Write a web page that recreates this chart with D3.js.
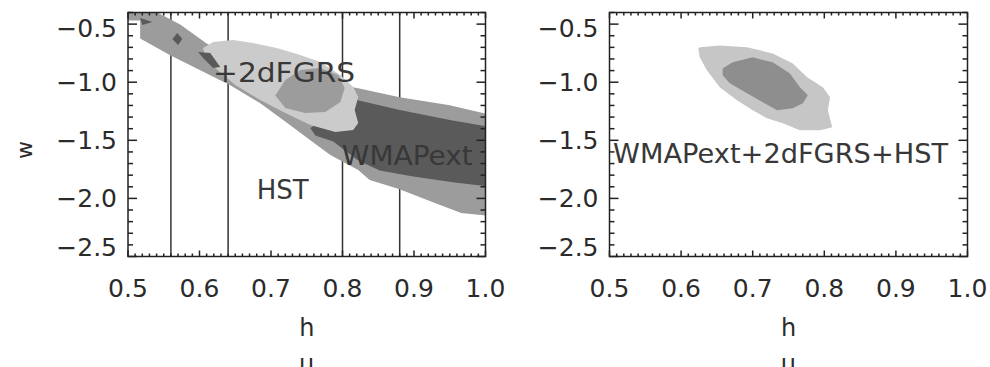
<!DOCTYPE html>
<html>
<head>
<meta charset="utf-8">
<script src="https://cdn.jsdelivr.net/npm/d3@7/dist/d3.min.js"></script>
<style>
body { margin: 0; background: #fff; }
text { font-family: "DejaVu Sans", sans-serif; fill: #2b2b2b; }
</style>
</head>
<body>
<svg id="chart" width="990" height="367"></svg>
<script>
// axis ranges and ticks
var hDomain = [0.5, 1.0];
var wDomain = [-2.5, -0.4];
var hTicks = [0.5, 0.6, 0.7, 0.8, 0.9, 1.0];
var wTicks = [-0.5, -1.0, -1.5, -2.0, -2.5];
var hstLines = [0.56, 0.64, 0.80, 0.88];

// WMAPext alone (left panel), 2 sigma and 1 sigma
var wmapOuter = [[0.48,-0.20],[0.50,-0.245],[0.541,-0.40],[0.573,-0.503],[0.610,-0.666],[0.671,-0.855],
  [0.741,-0.967],[0.822,-1.052],[0.880,-1.130],[0.950,-1.198],[1.02,-1.30],[1.02,-2.16],[0.966,-2.125],
  [0.922,-2.022],[0.879,-1.919],[0.838,-1.842],[0.822,-1.756],[0.783,-1.627],[0.755,-1.499],[0.727,-1.370],
  [0.685,-1.181],[0.643,-1.027],[0.601,-0.898],[0.559,-0.769],[0.517,-0.623],[0.517,-0.469],[0.48,-0.469]];
var wmapInner = [[0.755,-1.394],[0.797,-1.239],[0.820,-1.153],[0.880,-1.239],[0.950,-1.325],[1.02,-1.40],
  [1.02,-1.885],[0.999,-1.893],[0.957,-1.863],[0.899,-1.811],[0.852,-1.760],[0.822,-1.674],[0.787,-1.510],[0.762,-1.458]];
var wmapSpots = [
  [[0.517,-0.447],[0.534,-0.482],[0.520,-0.508]],
  [[0.569,-0.576],[0.576,-0.628],[0.570,-0.680],[0.562,-0.628]],
  [[0.598,-0.740],[0.615,-0.749],[0.629,-0.869],[0.619,-0.878],[0.605,-0.792]]
];

// WMAPext + 2dFGRS (left panel)
var fgrsOuter = [[0.605,-0.706],[0.619,-0.654],[0.647,-0.637],[0.675,-0.662],[0.708,-0.706],[0.741,-0.766],
  [0.769,-0.826],[0.797,-0.938],[0.815,-1.041],[0.822,-1.127],[0.817,-1.239],[0.822,-1.351],[0.815,-1.411],
  [0.790,-1.428],[0.755,-1.368],[0.720,-1.265],[0.685,-1.153],[0.650,-1.024],[0.622,-0.878],[0.608,-0.792]];
var fgrsInner = [[0.706,-1.114],[0.720,-0.981],[0.741,-0.895],[0.769,-0.878],[0.794,-0.938],[0.803,-1.050],
  [0.797,-1.170],[0.776,-1.256],[0.748,-1.265],[0.720,-1.222]];

// WMAPext + 2dFGRS + HST (right panel)
var allOuter = [[0.626,-0.700],[0.654,-0.683],[0.692,-0.700],[0.728,-0.752],[0.756,-0.838],[0.776,-0.958],
  [0.798,-1.044],[0.808,-1.130],[0.805,-1.241],[0.811,-1.387],[0.794,-1.413],[0.766,-1.413],[0.742,-1.353],
  [0.720,-1.310],[0.700,-1.241],[0.678,-1.155],[0.654,-1.044],[0.636,-0.898],[0.626,-0.786],[0.624,-0.709]];
var allInner = [[0.658,-0.881],[0.672,-0.829],[0.700,-0.786],[0.728,-0.829],[0.752,-0.924],[0.766,-1.044],
  [0.777,-1.112],[0.770,-1.181],[0.756,-1.224],[0.734,-1.241],[0.714,-1.173],[0.692,-1.095],[0.668,-1.009],[0.658,-0.941]];

// labels: text, h, w (left baseline), width
var leftLabels = [["+2dFGRS", 0.619, -0.998, 142], ["WMAPext", 0.799, -1.712, 131], ["HST", 0.680, -2.005, 52]];
var rightLabels = [["WMAPext+2dFGRS+HST", 0.505, -1.695, 335]];

var light = "#cbcbcb", medium = "#9c9c9c", dark = "#5a5a5a";

var panels = [
  { id: "L", x0: 128, x1: 485.5, lines: hstLines,
    layers: [[wmapOuter, medium], [wmapInner, dark], [fgrsOuter, light], [fgrsInner, medium]]
      .concat(wmapSpots.map(function(p) { return [p, dark]; })),
    labels: leftLabels },
  { id: "R", x0: 609.5, x1: 967.5, lines: [],
    layers: [[allOuter, "#c6c6c6"], [allInner, "#8e8e8e"]],
    labels: rightLabels }
];

var svg = d3.select("#chart");
var y = d3.scaleLinear().domain(wDomain).range([256.5, 12.5]);
var fmt = function(v) { return d3.format(".1f")(v).replace("-", "\u2212"); };
var hMinor = d3.range(50, 101).map(function(d) { return d / 100; });
var wMinor = d3.range(-25, -3).map(function(d) { return d / 10; });

panels.forEach(function(p) {
    var x = d3.scaleLinear().domain(hDomain).range([p.x0, p.x1]);
    var top = y.range()[1], bottom = y.range()[0];

    svg.append("clipPath").attr("id", "clip" + p.id)
        .append("rect").attr("x", p.x0).attr("y", top)
        .attr("width", p.x1 - p.x0).attr("height", bottom - top);

    var g = svg.append("g").attr("clip-path", "url(#clip" + p.id + ")");

    g.selectAll("line.hst").data(p.lines).enter().append("line")
        .attr("x1", function(d) { return x(d); }).attr("x2", function(d) { return x(d); })
        .attr("y1", top).attr("y2", bottom)
        .attr("stroke", "#333").attr("stroke-width", 1.5);

    var line = d3.line().x(function(d) { return x(d[0]); }).y(function(d) { return y(d[1]); });
    g.selectAll("path.contour").data(p.layers).enter().append("path")
        .attr("d", function(d) { return line(d[0]) + "Z"; })
        .attr("fill", function(d) { return d[1]; });

    g.selectAll("text.lab").data(p.labels).enter().append("text")
        .attr("x", function(d) { return x(d[1]); })
        .attr("y", function(d) { return y(d[2]); })
        .attr("textLength", function(d) { return d[3]; })
        .attr("lengthAdjust", "spacingAndGlyphs")
        .style("font-size", "27px").style("fill", "#383838")
        .text(function(d) { return d[0]; });

    // frame and ticks
    var fr = svg.append("g").attr("stroke", "#222").attr("stroke-width", 1.5);
    fr.append("rect").attr("x", p.x0).attr("y", top)
        .attr("width", p.x1 - p.x0).attr("height", bottom - top).attr("fill", "none");

    hMinor.forEach(function(v, i) {
        var len = (i % 10 === 0) ? 6 : 3;
        fr.append("line").attr("x1", x(v)).attr("x2", x(v)).attr("y1", bottom).attr("y2", bottom - len);
        fr.append("line").attr("x1", x(v)).attr("x2", x(v)).attr("y1", top).attr("y2", top + len);
    });
    wMinor.forEach(function(v) {
        var len = (Math.abs(Math.round(v * 10)) % 5 === 0) ? 9 : 5;
        fr.append("line").attr("y1", y(v)).attr("y2", y(v)).attr("x1", p.x0).attr("x2", p.x0 + len);
        fr.append("line").attr("y1", y(v)).attr("y2", y(v)).attr("x1", p.x1).attr("x2", p.x1 - len);
    });

    svg.selectAll("text.ht" + p.id).data(hTicks).enter().append("text")
        .attr("x", function(d) { return x(d); }).attr("y", 297)
        .attr("text-anchor", "middle").style("font-size", "25px")
        .text(fmt);
    // tick labels are kept inside the axis span, as in the original plot
    svg.selectAll("text.wt" + p.id).data(wTicks).enter().append("text")
        .attr("x", p.x0 - 11)
        .attr("y", function(d) { return Math.max(top + 15, Math.min(bottom - 10, y(d))) + 9; })
        .attr("text-anchor", "end").style("font-size", "25px")
        .text(fmt);

    var cx = (p.x0 + p.x1) / 2;
    svg.append("text").attr("x", cx).attr("y", 336).attr("text-anchor", "middle")
        .style("font-size", "24px").text("h");
    svg.append("text").attr("x", cx).attr("y", 372).attr("text-anchor", "middle")
        .style("font-size", "24px").text("\u03bc");
});

svg.append("text").attr("transform", "translate(32,150) rotate(-90)")
    .attr("text-anchor", "middle").style("font-size", "22px").text("w");
</script>
</body>
</html>
